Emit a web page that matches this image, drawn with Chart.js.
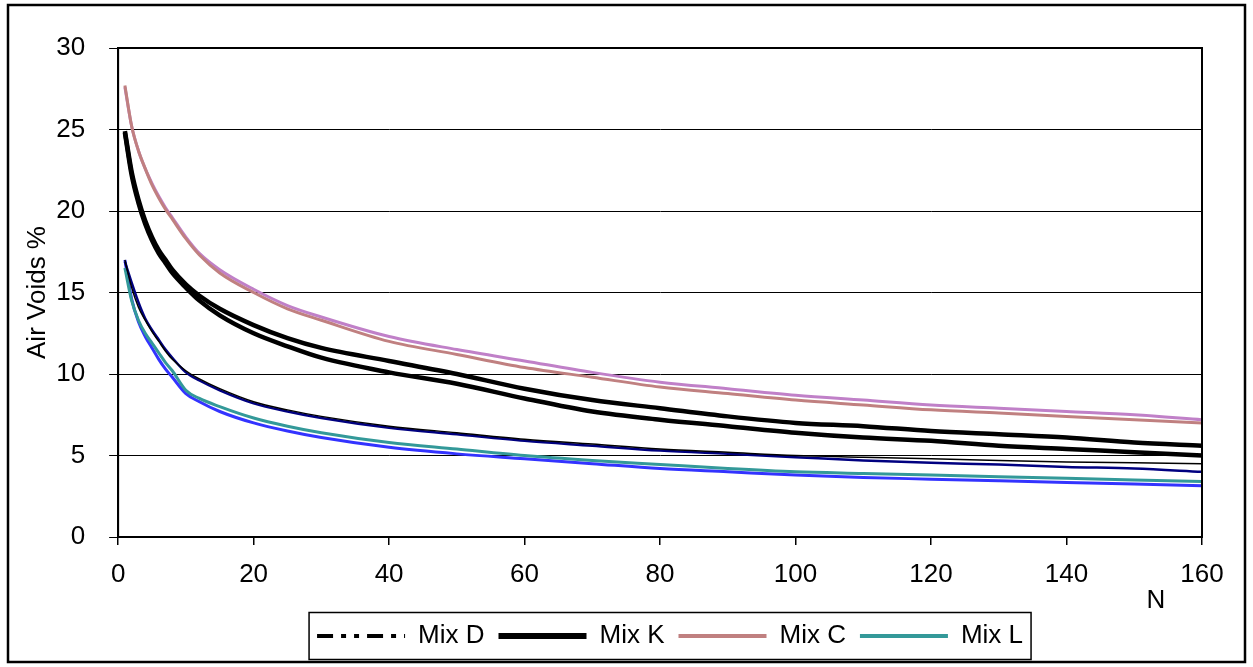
<!DOCTYPE html>
<html lang="en">
<head>
  <meta charset="UTF-8">
  <title>Air Voids vs N</title>
  <script src="https://cdn.jsdelivr.net/npm/chart.js@4.4.1/dist/chart.umd.min.js"></script>
  <style>
    html, body { margin: 0; padding: 0; background: #fff; }
    #wrap { width: 1253px; height: 667px; }
  </style>
</head>
<body>
  <div id="wrap"><canvas id="voidsChart" width="1253" height="667"></canvas></div>

  <script>
    // gyratory compaction: number of gyrations
    const nGyrations = [1, 2, 3, 4, 5, 6, 7, 8, 10, 12, 15, 20, 25, 30, 40, 50, 60, 70, 80, 90, 100, 110, 120, 130, 140, 150, 160];

    const mixD1 = [17.0, 15.3, 14.1, 13.3, 12.6, 12.0, 11.4, 10.9, 10.2, 9.7, 9.1, 8.3, 7.8, 7.4, 6.8, 6.4, 6.0, 5.7, 5.4, 5.2, 5.0, 4.9, 4.8, 4.7, 4.6, 4.55, 4.5];
    const mixD2 = [16.9, 15.6, 14.4, 13.4, 12.7, 12.1, 11.5, 11.0, 10.1, 9.6, 9.0, 8.2, 7.7, 7.3, 6.7, 6.3, 5.9, 5.6, 5.3, 5.1, 4.9, 4.7, 4.55, 4.45, 4.3, 4.2, 4.0];
    const mixK1 = [24.9, 22.4, 20.7, 19.4, 18.4, 17.6, 17.0, 16.4, 15.5, 14.8, 14.0, 13.0, 12.2, 11.6, 10.8, 10.0, 9.1, 8.4, 7.9, 7.4, 7.0, 6.8, 6.5, 6.3, 6.1, 5.8, 5.6];
    const mixK2 = [24.8, 22.2, 20.5, 19.2, 18.2, 17.4, 16.8, 16.2, 15.3, 14.5, 13.6, 12.5, 11.7, 11.0, 10.1, 9.4, 8.5, 7.7, 7.2, 6.8, 6.4, 6.1, 5.9, 5.6, 5.4, 5.2, 5.0];
    const mixC1 = [27.7, 25.2, 23.7, 22.6, 21.6, 20.8, 20.1, 19.5, 18.3, 17.3, 16.2, 15.0, 14.0, 13.3, 12.0, 11.2, 10.4, 9.8, 9.2, 8.8, 8.4, 8.1, 7.8, 7.6, 7.4, 7.2, 7.0];
    const mixC2 = [27.6, 25.2, 23.7, 22.6, 21.7, 20.9, 20.2, 19.6, 18.4, 17.4, 16.4, 15.2, 14.2, 13.5, 12.3, 11.5, 10.8, 10.1, 9.5, 9.1, 8.7, 8.4, 8.1, 7.9, 7.7, 7.5, 7.2];
    const mixL1 = [16.5, 14.5, 13.3, 12.5, 11.9, 11.3, 10.7, 10.2, 9.0, 8.5, 8.0, 7.3, 6.8, 6.4, 5.8, 5.4, 5.0, 4.7, 4.45, 4.2, 4.0, 3.9, 3.8, 3.7, 3.6, 3.5, 3.4];
    const mixL2 = [17.0, 14.6, 13.2, 12.3, 11.6, 10.9, 10.3, 9.8, 8.8, 8.3, 7.7, 7.0, 6.5, 6.1, 5.5, 5.1, 4.8, 4.5, 4.2, 4.0, 3.8, 3.65, 3.55, 3.45, 3.35, 3.25, 3.15];

    const legendNames = ["Mix D", "Mix K", "Mix C", "Mix L"];
    const xTickValues = [0, 20, 40, 60, 80, 100, 120, 140, 160];
    const yTickValues = [0, 5, 10, 15, 20, 25, 30];

    const FONT = 'Arial, "Liberation Sans", sans-serif';
    Chart.defaults.font.family = FONT;
    Chart.defaults.font.size = 26;
    Chart.defaults.color = '#000';

    function pts(ys) {
      return ys.map((y, i) => ({ x: nGyrations[i], y: y }));
    }

    function series(label, ys, color, width, legendDash, legendWidth) {
      return {
        label: label,
        data: pts(ys),
        borderColor: color,
        backgroundColor: color,
        borderWidth: width,
        pointRadius: 0,
        fill: false,
        cubicInterpolationMode: 'monotone',
        legendDash: legendDash,
        legendWidth: legendWidth
      };
    }

    const datasets = [
      series(legendNames[0], mixD1, '#000000', 1.5, [16, 8, 5, 8, 5, 8], 4),
      series(legendNames[0], mixD2, '#000080', 2.5),
      series(legendNames[1], mixK1, '#000000', 4.5, [], 6),
      series(legendNames[1], mixK2, '#000000', 4.5),
      series(legendNames[2], mixC1, '#C08080', 3, [], 4),
      series(legendNames[2], mixC2, '#C080C8', 3),
      series(legendNames[3], mixL1, '#339999', 3, [], 4),
      series(legendNames[3], mixL2, '#3333FF', 3)
    ];

    // frame round the whole chart, plot box, box round the legend, "N" label
    const frames = {
      id: 'frames',
      afterLayout(chart) {
        // legend sits a little right of the plot centre in the original
        chart.legend.left += 10;
        chart.legend.right += 10;
      },
      beforeDraw(chart) {
        const ctx = chart.ctx;
        ctx.save();
        ctx.fillStyle = '#fff';
        ctx.fillRect(0, 0, chart.width, chart.height);
        ctx.restore();
      },
      afterDraw(chart) {
        const ctx = chart.ctx;
        const a = chart.chartArea;
        ctx.save();
        ctx.strokeStyle = '#000';
        ctx.lineWidth = 2.5;
        ctx.strokeRect(8, 5, chart.width - 16, chart.height - 10);

        ctx.lineWidth = 2;
        ctx.strokeRect(a.left, a.top, a.right - a.left, a.bottom - a.top);

        const boxes = chart.legend.legendHitBoxes;
        if (boxes && boxes.length) {
          const first = boxes[0], last = boxes[boxes.length - 1];
          const cy = first.top + first.height / 2;
          ctx.lineWidth = 1.5;
          ctx.strokeRect(first.left - 8, cy - 23.5, last.left + last.width - first.left + 16, 47);
        }

        ctx.fillStyle = '#000';
        ctx.font = '26px ' + FONT;
        ctx.textAlign = 'center';
        ctx.textBaseline = 'middle';
        ctx.fillText('N', a.right - 46, a.bottom + 64);
        ctx.restore();
      }
    };

    new Chart('voidsChart', {
      type: 'line',
      data: { datasets: datasets },
      options: {
        responsive: false,
        animation: false,
        layout: { padding: { left: 22, right: 51, top: 48, bottom: 8 } },
        plugins: {
          tooltip: { enabled: false },
          legend: {
            position: 'bottom',
            fullSize: false,
            labels: {
              usePointStyle: true,
              pointStyleWidth: 88,
              padding: 14,
              font: { size: 26 },
              color: '#000',
              generateLabels(chart) {
                return chart.data.datasets
                  .map((ds, i) => ({ ds, i }))
                  .filter(o => o.ds.legendWidth)
                  .map(o => ({
                    text: o.ds.label,
                    datasetIndex: o.i,
                    pointStyle: 'line',
                    strokeStyle: o.ds.borderColor,
                    fillStyle: o.ds.borderColor,
                    lineWidth: o.ds.legendWidth,
                    lineDash: o.ds.legendDash,
                    lineCap: 'butt',
                    hidden: false
                  }));
              }
            }
          }
        },
        scales: {
          x: {
            type: 'linear',
            min: 0,
            max: 160,
            afterBuildTicks(s) { s.ticks = xTickValues.map(v => ({ value: v })); },
            afterFit(s) { s.height = 72; },
            ticks: { padding: 14, color: '#000', maxRotation: 0 },
            grid: { drawOnChartArea: false, drawTicks: true, tickLength: 8, color: '#000', lineWidth: 1.5 },
            border: { display: true, color: '#000', width: 2 }
          },
          y: {
            min: 0,
            max: 30,
            afterBuildTicks(s) { s.ticks = yTickValues.map(v => ({ value: v })); },
            ticks: { padding: 24, color: '#000' },
            grid: { color: '#000', lineWidth: 1, tickLength: 9, tickColor: '#000' },
            border: { display: true, color: '#000', width: 2 },
            title: { display: true, text: 'Air Voids %', color: '#000', font: { size: 26 }, padding: { top: 0, bottom: -21 } }
          }
        }
      },
      plugins: [frames]
    });
  </script>
</body>
</html>
